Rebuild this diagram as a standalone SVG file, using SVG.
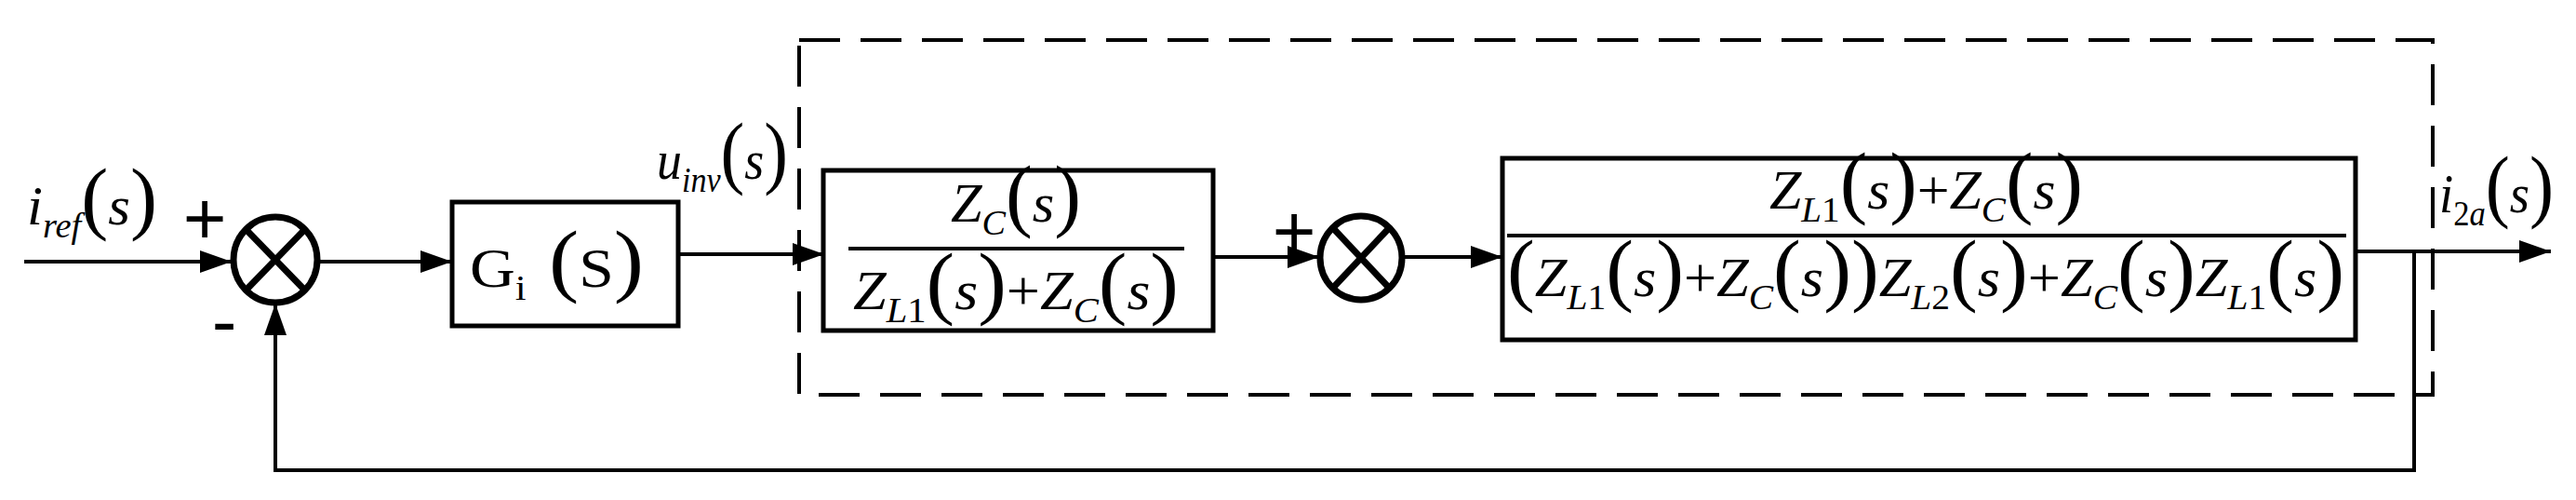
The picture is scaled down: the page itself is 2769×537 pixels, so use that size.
<svg xmlns="http://www.w3.org/2000/svg" width="2769" height="537" viewBox="0 0 2769 537">
<defs>
<marker id="ahb" viewBox="0 0 34 24" refX="34" refY="12" markerWidth="34" markerHeight="24" orient="auto" markerUnits="userSpaceOnUse">
<path d="M0,0 L34,12 L0,24 z" fill="#000"/>
</marker>
</defs>
<style>
.ln{stroke:#000;stroke-width:4;fill:none}
.box{stroke:#000;stroke-width:5;fill:#fff}
.sum{stroke:#000;stroke-width:7;fill:#fff}
.t{font-family:"Liberation Serif","Times New Roman",serif;font-size:60px;fill:#000}
.i{font-style:italic}
.sb{font-size:38px}
.p{font-size:86px}
.sign{font-family:"Liberation Sans",sans-serif;font-size:80px;fill:#000}
</style>
<rect x="859" y="43" width="1756" height="381" fill="none" stroke="#000" stroke-width="4" stroke-dasharray="44 22"/>
<g id="connectors">
<line class="ln" x1="26" y1="281" x2="249" y2="281" marker-end="url(#ahb)"/>
<line class="ln" x1="342" y1="281" x2="486" y2="281" marker-end="url(#ahb)"/>
<line class="ln" x1="729" y1="273" x2="886" y2="273" marker-end="url(#ahb)"/>
<line class="ln" x1="1300" y1="276" x2="1418" y2="276" marker-end="url(#ahb)"/>
<line class="ln" x1="1507" y1="276" x2="1615" y2="276" marker-end="url(#ahb)"/>
<line class="ln" x1="2532" y1="270" x2="2742" y2="270" marker-end="url(#ahb)"/>
<polyline class="ln" points="2595,270 2595,505 296,505 296,326" marker-end="url(#ahb)"/>
</g>
<g id="sum1">
<ellipse class="sum" cx="296" cy="279" rx="45" ry="46"/>
<line class="sum" x1="264" y1="246" x2="328" y2="312"/>
<line class="sum" x1="328" y1="246" x2="264" y2="312"/>
</g>
<text class="sign" x="220" y="262" text-anchor="middle">+</text>
<text class="sign" x="241" y="372" text-anchor="middle">-</text>
<g id="gi">
<rect class="box" x="486" y="217" width="243" height="133"/>
<text class="t" x="505" y="308" font-size="72" textLength="187" lengthAdjust="spacingAndGlyphs">G<tspan class="sb" dy="14">i</tspan><tspan dy="-14" class="p"> (</tspan><tspan>S</tspan><tspan class="p">)</tspan></text>
</g>
<g id="box1">
<rect class="box" x="885" y="183" width="419" height="172"/>
<line class="ln" x1="912" y1="267" x2="1273" y2="267" stroke-width="6"/>
<text class="t" x="1022" y="238" textLength="140" lengthAdjust="spacingAndGlyphs"><tspan class="i">Z</tspan><tspan class="i sb" dy="14">C</tspan><tspan class="p" dy="-14">(</tspan><tspan class="i">s</tspan><tspan class="p">)</tspan></text>
<text class="t" x="917" y="332" textLength="350" lengthAdjust="spacingAndGlyphs"><tspan class="i">Z</tspan><tspan class="i sb" dy="14">L</tspan><tspan class="sb">1</tspan><tspan class="p" dy="-14">(</tspan><tspan class="i">s</tspan><tspan class="p">)</tspan>+<tspan class="i">Z</tspan><tspan class="i sb" dy="14">C</tspan><tspan class="p" dy="-14">(</tspan><tspan class="i">s</tspan><tspan class="p">)</tspan></text>
</g>
<g id="sum2">
<ellipse class="sum" cx="1463" cy="277" rx="44" ry="45"/>
<line class="sum" x1="1432" y1="244" x2="1494" y2="310"/>
<line class="sum" x1="1494" y1="244" x2="1432" y2="310"/>
</g>
<text class="sign" x="1391" y="276" text-anchor="middle">+</text>
<g id="box2">
<rect class="box" x="1615" y="170" width="917" height="195"/>
<line class="ln" x1="1620" y1="253" x2="2522" y2="253" stroke-width="6"/>
<text class="t" x="1902" y="224" textLength="337" lengthAdjust="spacingAndGlyphs"><tspan class="i">Z</tspan><tspan class="i sb" dy="14">L</tspan><tspan class="sb">1</tspan><tspan class="p" dy="-14">(</tspan><tspan class="i">s</tspan><tspan class="p">)</tspan>+<tspan class="i">Z</tspan><tspan class="i sb" dy="14">C</tspan><tspan class="p" dy="-14">(</tspan><tspan class="i">s</tspan><tspan class="p">)</tspan></text>
<text class="t" x="1620" y="318" textLength="900" lengthAdjust="spacingAndGlyphs"><tspan class="p">(</tspan><tspan class="i">Z</tspan><tspan class="i sb" dy="14">L</tspan><tspan class="sb">1</tspan><tspan class="p" dy="-14">(</tspan><tspan class="i">s</tspan><tspan class="p">)</tspan>+<tspan class="i">Z</tspan><tspan class="i sb" dy="14">C</tspan><tspan class="p" dy="-14">(</tspan><tspan class="i">s</tspan><tspan class="p">))</tspan><tspan class="i">Z</tspan><tspan class="i sb" dy="14">L</tspan><tspan class="sb">2</tspan><tspan class="p" dy="-14">(</tspan><tspan class="i">s</tspan><tspan class="p">)</tspan>+<tspan class="i">Z</tspan><tspan class="i sb" dy="14">C</tspan><tspan class="p" dy="-14">(</tspan><tspan class="i">s</tspan><tspan class="p">)</tspan><tspan class="i">Z</tspan><tspan class="i sb" dy="14">L</tspan><tspan class="sb">1</tspan><tspan class="p" dy="-14">(</tspan><tspan class="i">s</tspan><tspan class="p">)</tspan></text>
</g>
<text class="t" x="29" y="241" textLength="140" lengthAdjust="spacingAndGlyphs"><tspan class="i">i</tspan><tspan class="i sb" dy="14">ref</tspan><tspan class="p" dy="-14">(</tspan><tspan class="i">s</tspan><tspan class="p">)</tspan></text>
<text class="t" x="706" y="192" textLength="141" lengthAdjust="spacingAndGlyphs"><tspan class="i">u</tspan><tspan class="i sb" dy="14">inv</tspan><tspan class="p" dy="-14">(</tspan><tspan class="i">s</tspan><tspan class="p">)</tspan></text>
<text class="t" x="2622" y="228" textLength="123" lengthAdjust="spacingAndGlyphs"><tspan class="i">i</tspan><tspan class="sb" dy="14">2</tspan><tspan class="i sb">a</tspan><tspan class="p" dy="-14">(</tspan><tspan class="i">s</tspan><tspan class="p">)</tspan></text>
</svg>
